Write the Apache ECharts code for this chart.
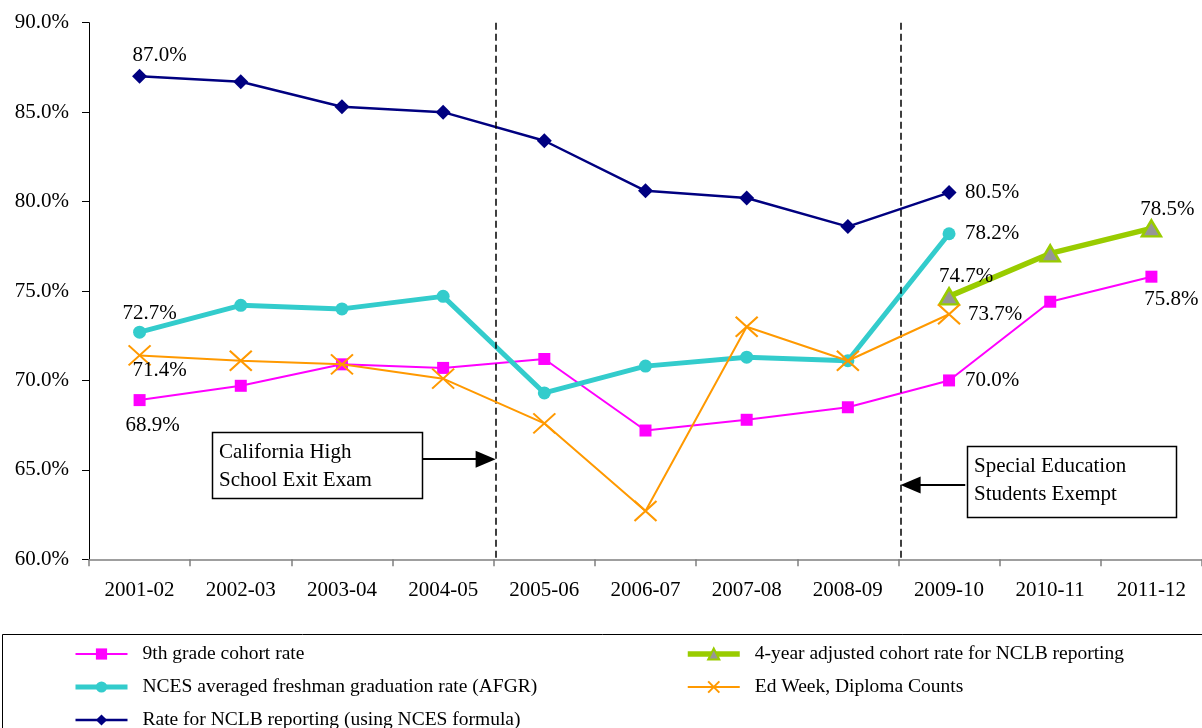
<!DOCTYPE html>
<html>
<head>
<meta charset="utf-8">
<script src="https://cdn.jsdelivr.net/npm/echarts@6/dist/echarts.min.js"></script>
<style>
html,body{margin:0;padding:0;background:#fff;}
#chart{width:1202px;height:728px;}
</style>
</head>
<body>
<div id="chart"></div>
<script>
const categories = ['2001-02','2002-03','2003-04','2004-05','2005-06','2006-07','2007-08','2008-09','2009-10','2010-11','2011-12'];
const grade9Cohort = [68.9, 69.7, 70.9, 70.7, 71.2, 67.2, 67.8, 68.5, 70.0, 74.4, 75.8];
const ncesAfgr = [72.7, 74.2, 74.0, 74.7, 69.3, 70.8, 71.3, 71.1, 78.2, null, null];
const nclbRate = [87.0, 86.7, 85.3, 85.0, 83.4, 80.6, 80.2, 78.6, 80.5, null, null];
const adjustedCohort = [null, null, null, null, null, null, null, null, 74.7, 77.1, 78.5];
const edWeek = [71.4, 71.1, 70.9, 70.1, 67.6, 62.7, 73.0, 71.1, 73.7, null, null];
const yTicks = [60, 65, 70, 75, 80, 85, 90];

const names = {
  g9: '9th grade cohort rate',
  afgr: 'NCES averaged freshman graduation rate (AFGR)',
  nclb: 'Rate for NCLB reporting (using NCES formula)',
  adj: '4-year adjusted cohort rate for NCLB reporting',
  ew: 'Ed Week, Diploma Counts'
};

const FONT = 'Liberation Serif, Times New Roman, serif';

function labelled(values, specs) {
  return values.map((v, i) => {
    if (specs[i]) {
      return {
        value: v,
        label: {
          show: true, position: 'inside', offset: specs[i],
          formatter: p => p.value.toFixed(1) + '%',
          fontFamily: FONT, fontSize: 21, color: '#000'
        }
      };
    }
    return v;
  });
}

const legendCommon = {
  orient: 'vertical', top: 644, height: 140, width: 500, padding: 0,
  itemWidth: 52, itemHeight: 14, itemGap: 13,
  lineStyle: { width: 'inherit' },
  textStyle: { fontFamily: FONT, fontSize: 19.5, color: '#000', lineHeight: 20, padding: [0, 0, 0, 10] },
  selectedMode: false
};

const chart = echarts.init(document.getElementById('chart'));
const option = {
  animation: false,
  backgroundColor: '#fff',
  grid: { left: 89, right: -2, top: 22.7, bottom: 168.7, containLabel: false },
  xAxis: [
    {
      type: 'category', data: categories, boundaryGap: true,
      axisLine: { onZero: false, lineStyle: { color: '#808080', width: 1.5 } },
      axisTick: { show: true, length: 7, inside: false, lineStyle: { color: '#808080', width: 1.5 } },
      axisLabel: { fontFamily: FONT, fontSize: 21, color: '#000', margin: 21 },
      splitLine: { show: false }
    },
    { type: 'value', min: -0.5, max: 10.5, show: false, gridIndex: 0, axisLine: { onZero: false } }
  ],
  yAxis: {
    type: 'value', min: yTicks[0], max: yTicks[yTicks.length - 1], interval: 5,
    axisLine: { show: true, onZero: false, lineStyle: { color: '#000', width: 1 } },
    axisTick: { show: true, length: 7, lineStyle: { color: '#000' } },
    axisLabel: { fontFamily: FONT, fontSize: 21, color: '#000', margin: 20, formatter: v => v.toFixed(1) + '%' },
    splitLine: { show: false }
  },
  legend: [
    Object.assign({ data: [names.g9, names.afgr, names.nclb], left: 73 }, legendCommon),
    Object.assign({ data: [names.adj, names.ew], left: 685 }, legendCommon)
  ],
  graphic: [
    { type: 'rect', shape: { x: 2.5, y: 634.5, width: 1215, height: 110 }, style: { fill: 'none', stroke: '#000', lineWidth: 1 }, z: 0 },
    { type: 'rect', shape: { x: 212.5, y: 432.5, width: 210, height: 66 }, style: { fill: '#fff', stroke: '#000', lineWidth: 1.5 }, z: 10 },
    { type: 'text', left: 219, top: 438, z: 11, style: { text: 'California High\nSchool Exit Exam', font: '21px ' + FONT, fill: '#000', lineHeight: 28 } },
    { type: 'rect', shape: { x: 967.5, y: 446.5, width: 209, height: 71 }, style: { fill: '#fff', stroke: '#000', lineWidth: 1.5 }, z: 10 },
    { type: 'text', left: 974, top: 452, z: 11, style: { text: 'Special Education\nStudents Exempt', font: '21px ' + FONT, fill: '#000', lineHeight: 28 } }
  ],
  series: [
    {
      name: names.g9, type: 'line', data: labelled(grade9Cohort, { 0: [13, 25], 8: [43, 0], 10: [20, 23] }),
      symbol: 'rect', symbolSize: 12,
      lineStyle: { color: '#FF00FF', width: 2 },
      itemStyle: { color: '#FF00FF' }, z: 2
    },
    {
      name: names.afgr, type: 'line', data: labelled(ncesAfgr, { 0: [10, -19], 8: [43, 0] }),
      symbol: 'circle', symbolSize: 13,
      lineStyle: { color: '#33CCCC', width: 5 },
      itemStyle: { color: '#33CCCC' }, z: 3
    },
    {
      name: names.nclb, type: 'line', data: labelled(nclbRate, { 0: [20, -21], 8: [43, 0] }),
      symbol: 'diamond', symbolSize: 15,
      lineStyle: { color: '#000080', width: 2.5 },
      itemStyle: { color: '#000080' }, z: 4
    },
    {
      name: names.adj, type: 'line', data: labelled(adjustedCohort, { 8: [17, -20], 10: [16, -19] }),
      symbol: 'triangle', symbolSize: [19, 16],
      lineStyle: { color: '#99CC00', width: 5.5 },
      itemStyle: { color: '#969696', borderColor: '#99CC00', borderWidth: 2.5 }, z: 5
    },
    {
      name: names.ew, type: 'line', data: labelled(edWeek, { 0: [20, 15], 8: [46, 0] }),
      symbol: 'path://M0,0L20,20M20,0L0,20', symbolSize: [22, 20],
      lineStyle: { color: '#FF9900', width: 2 },
      itemStyle: { color: '#FF9900', borderColor: '#FF9900', borderWidth: 2 }, z: 6
    },
    {
      name: 'annotations', type: 'line', xAxisIndex: 1, yAxisIndex: 0, data: [],
      symbol: 'none', silent: true, z: 8,
      markLine: {
        silent: true, animation: false,
        label: { show: false },
        data: [
          [{ coord: [3.52, 90], symbol: 'none', lineStyle: { type: [7, 4], color: '#000', width: 1.5 } },
           { coord: [3.52, 60], symbol: 'none' }],
          [{ coord: [7.52, 90], symbol: 'none', lineStyle: { type: [7, 4], color: '#000', width: 1.5 } },
           { coord: [7.52, 60], symbol: 'none' }],
          [{ coord: [2.80, 65.6], symbol: 'none', lineStyle: { type: 'solid', color: '#000', width: 2 } },
           { coord: [3.42, 65.6], symbol: 'triangle', symbolSize: [17, 20] }],
          [{ coord: [8.16, 64.15], symbol: 'none', lineStyle: { type: 'solid', color: '#000', width: 2 } },
           { coord: [7.62, 64.15], symbol: 'triangle', symbolSize: [17, 20] }]
        ],
        itemStyle: { color: '#000' }
      }
    }
  ]
};
chart.setOption(option);
</script>
</body>
</html>
